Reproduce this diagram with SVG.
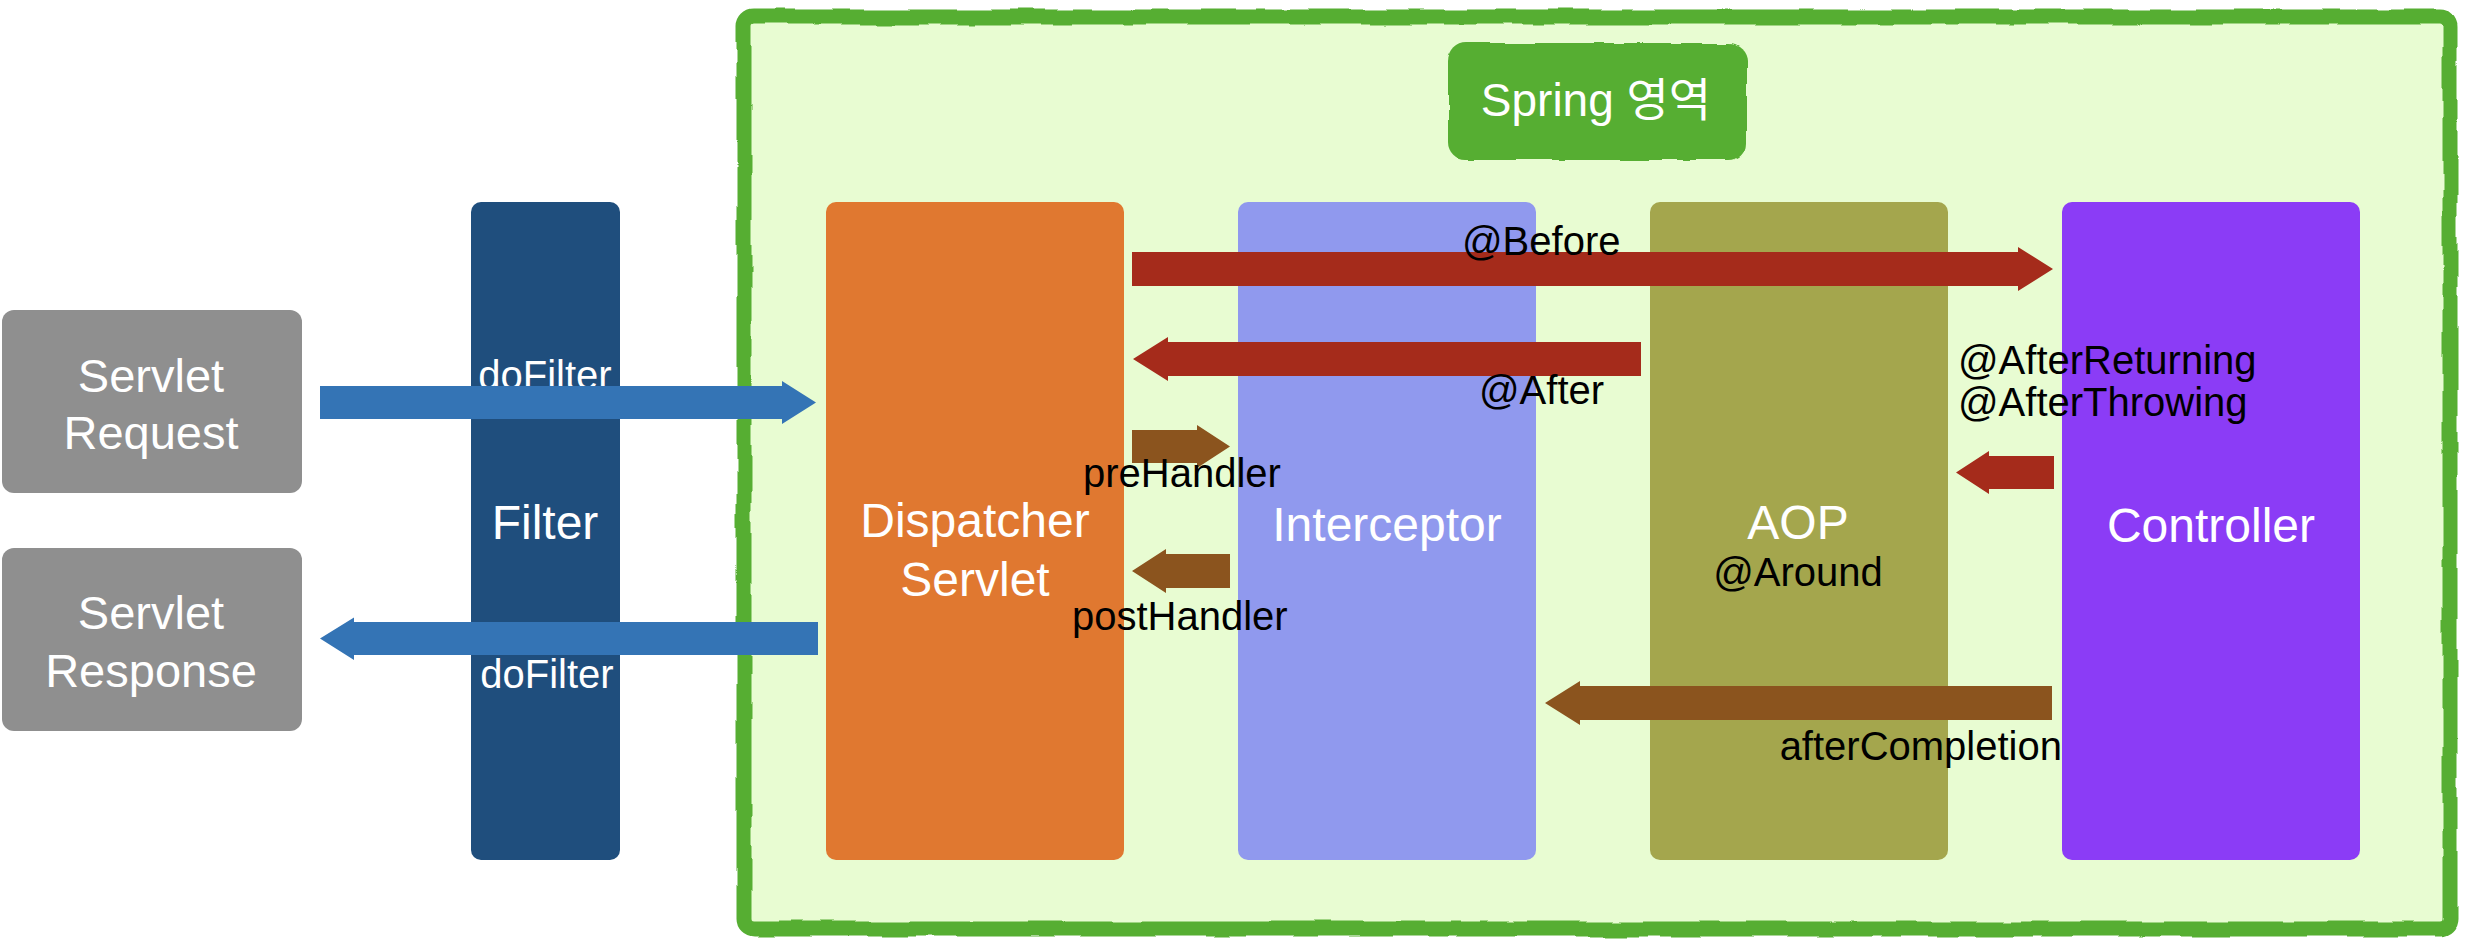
<svg xmlns="http://www.w3.org/2000/svg" width="2468" height="946" viewBox="0 0 2468 946">
<style>
.lbl{font-family:"Liberation Sans",Arial,"Noto Sans CJK KR",sans-serif;font-size:40px;fill:#000}
.wt{font-family:"Liberation Sans",Arial,"Noto Sans CJK KR",sans-serif;font-size:48px;fill:#fff;text-anchor:middle}
.red{fill:#a52b1b}
.brown{fill:#8b541e}
.blue{fill:#3474b5}
</style>
<defs>
<filter id="rough" x="-3%" y="-3%" width="106%" height="106%">
<feTurbulence type="fractalNoise" baseFrequency="0.02" numOctaves="2" seed="4" result="n"/>
<feDisplacementMap in="SourceGraphic" in2="n" scale="6" xChannelSelector="R" yChannelSelector="G"/>
</filter>
<filter id="rough2" x="-10%" y="-20%" width="120%" height="140%">
<feTurbulence type="fractalNoise" baseFrequency="0.03" numOctaves="2" seed="7" result="n"/>
<feDisplacementMap in="SourceGraphic" in2="n" scale="6" xChannelSelector="R" yChannelSelector="G"/>
</filter>
</defs>
<rect width="2468" height="946" fill="#fff"/>

<g id="spring-area">
<rect x="744" y="17" width="1706" height="912" rx="10" fill="#e8fcd2" stroke="#56ae33" stroke-width="15" filter="url(#rough)"/>
</g>
<g id="spring-label">
<rect x="1448" y="43" width="299" height="117" rx="18" fill="#56ae33" filter="url(#rough2)"/>
<text class="wt" x="1596" y="116" style="font-size:46px">Spring 영역</text>
</g>

<g id="servlet-request">
<rect x="2" y="310" width="300" height="183" rx="12" fill="#8f8f8f"/>
<text class="wt" x="151" y="392" style="font-size:47px">Servlet</text>
<text class="wt" x="151" y="449" style="font-size:47px">Request</text>
</g>
<g id="servlet-response">
<rect x="2" y="548" width="300" height="183" rx="12" fill="#8f8f8f"/>
<text class="wt" x="151" y="629" style="font-size:47px">Servlet</text>
<text class="wt" x="151" y="687" style="font-size:47px">Response</text>
</g>
<g id="filter">
<rect x="471" y="202" width="149" height="658" rx="10" fill="#1f4e7d"/>
<text class="wt" x="545" y="539">Filter</text>
</g>
<g id="dispatcher-servlet">
<rect x="826" y="202" width="298" height="658" rx="10" fill="#e07830"/>
<text class="wt" x="975" y="537">Dispatcher</text>
<text class="wt" x="975" y="596">Servlet</text>
</g>
<g id="interceptor">
<rect x="1238" y="202" width="298" height="658" rx="10" fill="#9099ee"/>
<text class="wt" x="1387" y="541">Interceptor</text>
</g>
<g id="aop">
<rect x="1650" y="202" width="298" height="658" rx="10" fill="#a4a64d"/>
<text class="wt" x="1798" y="539">AOP</text>
<text class="lbl" x="1798" y="586" text-anchor="middle">@Around</text>
</g>
<g id="controller">
<rect x="2062" y="202" width="298" height="658" rx="10" fill="#8b3cf6"/>
<text class="wt" x="2211" y="542">Controller</text>
</g>

<g id="connectors">
<text class="lbl" x="545" y="389" text-anchor="middle" style="fill:#fff">doFilter</text>
<text class="lbl" x="547" y="688" text-anchor="middle" style="fill:#fff">doFilter</text>
<polygon class="blue" points="320,386 782,386 782,381 816,402.5 782,424 782,419 320,419"/>
<polygon class="blue" points="320,638.5 354,617.5 354,622 818,622 818,655 354,655 354,660"/>
<polygon class="red" points="1132,252 2018,252 2018,247 2053,269 2018,291 2018,286 1132,286"/>
<polygon class="red" points="1133,359 1168,337 1168,342 1641,342 1641,376 1168,376 1168,381"/>
<polygon class="red" points="1956,472.5 1989,451 1989,456 2054,456 2054,489 1989,489 1989,494"/>
<polygon class="brown" points="1132,430 1197,430 1197,425 1230,446.5 1197,468 1197,463 1132,463"/>
<polygon class="brown" points="1132,571 1166,549 1166,554 1230,554 1230,588 1166,588 1166,593"/>
<polygon class="brown" points="1545,703 1580,681 1580,686 2052,686 2052,720 1580,720 1580,725"/>
<text class="lbl" x="1462" y="255">@Before</text>
<text class="lbl" x="1479" y="404">@After</text>
<text class="lbl" x="1958" y="374">@AfterReturning</text>
<text class="lbl" x="1958" y="416">@AfterThrowing</text>
<text class="lbl" x="1083" y="487">preHandler</text>
<text class="lbl" x="1072" y="630">postHandler</text>
<text class="lbl" x="2062" y="760" text-anchor="end">afterCompletion</text>
</g>
</svg>
